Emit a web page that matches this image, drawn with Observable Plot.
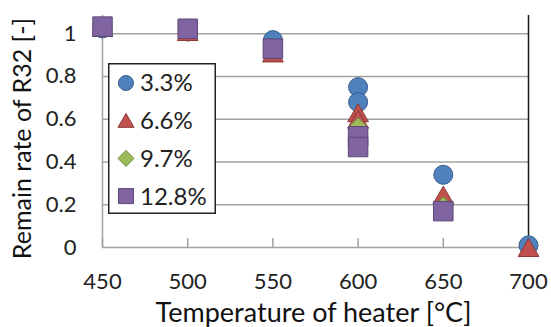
<!DOCTYPE html>
<html>
<head>
<meta charset="utf-8">
<script src="https://cdn.jsdelivr.net/npm/d3@7"></script>
<script src="https://cdn.jsdelivr.net/npm/@observablehq/plot@0.6"></script>
<style>
  html, body { margin: 0; padding: 0; background: #fff; }
  #chart { position: relative; width: 551px; height: 327px; font-family: Lato, "Open Sans", sans-serif; }
  #legend { position: absolute; left: 108px; top: 63px; }
</style>
</head>
<body>
<div id="chart"></div>
<script>
// Heater temperature (°C); two runs were made at 600 °C
const temperatures = [450, 500, 550, 600, 600, 650, 700];

// Remain rate of R32 for each initial concentration (null = not measured)
const rate33 = [1.025, 1.01, 0.97, 0.75, 0.68, 0.34, 0.01];
const rate66 = [1.03, 1.01, 0.91, 0.63, 0.60, 0.245, 0.0];
const rate97 = [1.03, 1.02, 0.92, 0.57, 0.53, 0.20, null];
const rate128 = [1.033, 1.023, 0.93, 0.52, 0.47, 0.17, null];

const seriesNames = ["3.3%", "6.6%", "9.7%", "12.8%"];
const seriesValues = [rate33, rate66, rate97, rate128];

const xTicks = [450, 500, 550, 600, 650, 700];
const yTicks = [0, 0.2, 0.4, 0.6, 0.8, 1];
const yTickLabels = ["0", "0.2", "0.4", "0.6", "0.8", "1"];

// Marker styling per series: symbol, Plot radius, fill, outline, legend symbol area.
// Triangles are shifted so their bounding box, not their centroid, sits on the value.
const styles = [
  {symbol: "circle", d3symbol: d3.symbolCircle, r: 9.5, fill: "#4F81BD", stroke: "#385D8A", legendSize: 177, dy: 0},
  {symbol: "triangle", d3symbol: d3.symbolTriangle, r: 7.7, fill: "#C0504D", stroke: "#8C3836", legendSize: 111, dy: 3},
  {symbol: "diamond2", d3symbol: d3.symbolDiamond2, r: 7.2, fill: "#9BBB59", stroke: "#71893F", legendSize: 163, dy: 0},
  {symbol: "square", d3symbol: d3.symbolSquare, r: 11, fill: "#8064A2", stroke: "#5C4776", legendSize: 225, dy: 0}
];

const rows = seriesValues.map((vals) =>
  temperatures.map((t, i) => ({t, v: vals[i]})).filter((d) => d.v !== null)
);

const grid = "#a2a2a2";

const chart = Plot.plot({
  width: 551,
  height: 327,
  marginLeft: 102,
  marginRight: 23,
  marginTop: 15,
  marginBottom: 80,
  style: {fontFamily: "Lato, 'Open Sans', sans-serif", fontSize: "22px", background: "#fff", color: "#222"},
  x: {domain: [450, 700]},
  y: {domain: [0, 1.085]},
  marks: [
    Plot.ruleY(yTicks.filter((d) => d > 0), {stroke: grid, strokeWidth: 1.5}),
    Plot.ruleY([0], {stroke: grid, strokeWidth: 1.5}),
    Plot.ruleX([450], {stroke: grid, strokeWidth: 1.5}),
    Plot.axisX({ticks: xTicks, tickSize: 9, dy: -9, text: null, label: null, stroke: grid, strokeWidth: 1.5}),
    Plot.axisX({ticks: xTicks, tickSize: 0, tickPadding: 26, label: null, fontSize: 22, fill: "#222"}),
    Plot.axisY({ticks: yTicks, tickSize: 0, tickPadding: 26, label: null, fontSize: 22, fill: "#222",
      tickFormat: (d) => yTickLabels[yTicks.indexOf(d)]}),
    Plot.ruleX([700], {stroke: "#1a1a1a", strokeWidth: 1.5}),
    ...rows.map((data, k) => Plot.dot(data, {
      x: "t", y: "v", symbol: styles[k].symbol, r: styles[k].r,
      fill: styles[k].fill, stroke: styles[k].stroke, strokeWidth: 1, dy: styles[k].dy
    })),
    Plot.text(["Remain rate of R32 [-]"], {
      frameAnchor: "left", textAnchor: "middle", lineAnchor: "middle", rotate: -90,
      dx: -80, dy: 7, fontSize: 25, fill: "#111"
    }),
    Plot.text(["Temperature of heater [°C]"], {
      frameAnchor: "bottom", textAnchor: "middle", lineAnchor: "middle",
      dy: 66, dx: -2, fontSize: 27, fill: "#111"
    })
  ]
});

const container = document.getElementById("chart");
container.appendChild(chart);

// Boxed legend drawn over the plot area
const lw = 108, lh = 151, rowGap = 37.7;
const legend = d3.create("svg")
  .attr("id", "legend")
  .attr("width", lw)
  .attr("height", lh)
  .style("font-family", "Lato, 'Open Sans', sans-serif");
legend.append("rect")
  .attr("x", 0.75).attr("y", 0.75)
  .attr("width", lw - 1.5).attr("height", lh - 1.5)
  .attr("fill", "#fff").attr("stroke", "#222").attr("stroke-width", 1.5);
seriesNames.forEach((name, k) => {
  const cy = 20 + k * rowGap;
  const s = styles[k];
  legend.append("path")
    .attr("transform", `translate(18,${cy + (k === 1 ? 2 : 0)})`)
    .attr("d", d3.symbol(s.d3symbol, s.legendSize)())
    .attr("fill", s.fill).attr("stroke", s.stroke).attr("stroke-width", 1);
  legend.append("text")
    .attr("x", 32).attr("y", cy)
    .attr("dy", "0.35em")
    .attr("font-size", 24)
    .attr("fill", "#222")
    .text(name);
});
container.appendChild(legend.node());
</script>
</body>
</html>
